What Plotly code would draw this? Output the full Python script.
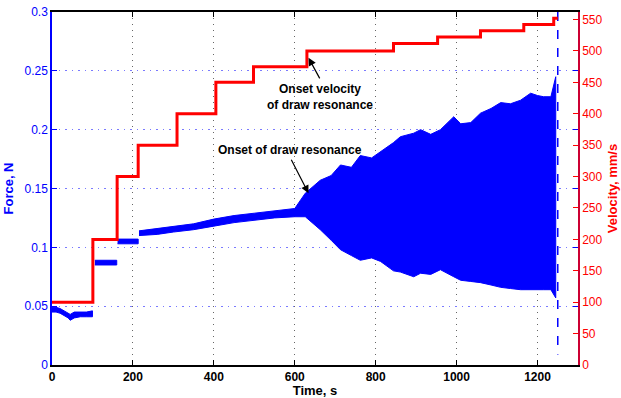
import plotly.graph_objects as go

# ---- data ----
# force envelope (segments separated by None): time, upper, lower
force_t = [0, 10, 20, 30, 40, 45, 55, 70, 85, 100, None,
           106, 130, 160, None,
           162, 190, 213, None,
           215, 260, 300, 350, 400, 450, 500, 550, 600, 626, 663, 690, 713, 740, 762,
           790, 812, 844, 861, 894, 911, 936, 960, 993, 1010, 1035, 1059, 1085, 1109,
           1133, 1158, 1183, 1200, 1215, 1233, 1245]
force_hi = [0.049, 0.049, 0.048, 0.046, 0.044, 0.043, 0.045, 0.045, 0.045, 0.046, None,
            0.089, 0.089, 0.089, None,
            0.107, 0.107, 0.107, None,
            0.114, 0.116, 0.118, 0.120, 0.124, 0.127, 0.129, 0.131, 0.133, 0.146, 0.157,
            0.161, 0.170, 0.168, 0.178, 0.176, 0.181, 0.189, 0.194, 0.197, 0.200, 0.196,
            0.200, 0.211, 0.205, 0.206, 0.214, 0.218, 0.223, 0.222, 0.225, 0.231, 0.229,
            0.228, 0.228, 0.245]
force_lo = [0.045, 0.045, 0.044, 0.042, 0.040, 0.038, 0.040, 0.041, 0.041, 0.041, None,
            0.085, 0.085, 0.085, None,
            0.103, 0.103, 0.103, None,
            0.110, 0.111, 0.113, 0.115, 0.118, 0.121, 0.123, 0.125, 0.126, 0.126, 0.115,
            0.106, 0.098, 0.093, 0.089, 0.091, 0.088, 0.080, 0.079, 0.075, 0.078, 0.077,
            0.081, 0.075, 0.072, 0.071, 0.070, 0.068, 0.066, 0.065, 0.064, 0.064, 0.064,
            0.064, 0.064, 0.057]

# final collapse of the force trace (dashed)
end_t = [1250, 1250]
end_force = [0.3, 0.009]

# draw velocity steps
vel_t = [0, 101, 161, 213, 309, 405, 498, 630, 844, 953, 1059, 1166, 1240, 1250]
vel_v = [100, 200, 300, 350, 400, 450, 475, 500, 512, 522, 532, 542, 552, 552]

x_ticks = [0, 200, 400, 600, 800, 1000, 1200]
force_ticks = [0, 0.05, 0.1, 0.15, 0.2, 0.25, 0.3]
force_tick_text = ["0", "0.05", "0.1", "0.15", "0.2", "0.25", "0.3"]
vel_ticks = [0, 50, 100, 150, 200, 250, 300, 350, 400, 450, 500, 550]

# ---- build closed envelope polygons per segment ----
poly_x, poly_y = [], []
seg_t, seg_hi, seg_lo = [], [], []
for t, hi, lo in zip(force_t + [None], force_hi + [None], force_lo + [None]):
    if t is None:
        if seg_t:
            poly_x += seg_t + seg_t[::-1] + [None]
            poly_y += seg_hi + seg_lo[::-1] + [None]
        seg_t, seg_hi, seg_lo = [], [], []
    else:
        seg_t.append(t); seg_hi.append(hi); seg_lo.append(lo)

BLUE = "#0000ff"
RED = "#ff0000"
FONT = "Liberation Sans, Arial, sans-serif"

fig = go.Figure()
fig.add_trace(go.Scatter(x=poly_x, y=poly_y, mode="lines", fill="toself",
                         fillcolor=BLUE, line=dict(color=BLUE, width=1),
                         hoverinfo="skip", showlegend=False, yaxis="y"))
fig.add_trace(go.Scatter(x=end_t, y=end_force, mode="lines",
                         line=dict(color=BLUE, width=1.5, dash="dash"),
                         showlegend=False, yaxis="y"))
fig.add_trace(go.Scatter(x=vel_t, y=vel_v, mode="lines", line_shape="hv",
                         line=dict(color=RED, width=3), showlegend=False, yaxis="y2"))

fig.update_layout(
    width=621, height=398,
    margin=dict(l=52, r=43, t=12, b=33),
    paper_bgcolor="white", plot_bgcolor="white",
    font=dict(family=FONT, size=12, color="black"),
    xaxis=dict(range=[0, 1300], tickvals=x_ticks, ticks="inside", ticklen=5,
               linecolor="black", linewidth=1.5, mirror="ticks", showline=True,
               showgrid=True, gridcolor="#666666", griddash="1px,5px", gridwidth=1,
               zeroline=False, tickcolor="black",
               tickfont=dict(family=FONT, size=12, color="black", weight="bold"),
               title=dict(text="<b>Time, s</b>", font=dict(size=13, color="black"),
                          standoff=2),
               automargin=False),
    yaxis=dict(range=[0, 0.3], tickvals=force_ticks, ticktext=force_tick_text,
               ticks="inside", ticklen=5, tickcolor=BLUE,
               linecolor=BLUE, linewidth=1.5, mirror="ticks", showline=True,
               showgrid=True, gridcolor="#7a7aff", griddash="1.5px,5px", gridwidth=1,
               zeroline=False, tickfont=dict(size=12, color=BLUE),
               title=dict(text="<b>Force, N</b>", font=dict(size=13, color=BLUE),
                          standoff=8),
               automargin=False),
    yaxis2=dict(range=[0, 562], tickvals=vel_ticks, overlaying="y", side="right",
                ticks="inside", ticklen=5, tickcolor=RED,
                linecolor="#cc0033", linewidth=1.5, showline=True,
                showgrid=False, zeroline=False,
                tickfont=dict(size=12, color=RED),
                title=dict(text="<b>Velocity, mm/s</b>", font=dict(size=13, color=RED),
                           standoff=6),
                automargin=False),
)

# arrows
fig.add_annotation(x=634, y=489, xref="x", yref="y2", ax=12, ay=22,
                   axref="pixel", ayref="pixel", text="", showarrow=True,
                   arrowhead=2, arrowsize=1.3, arrowwidth=1.2, arrowcolor="black")
fig.add_annotation(x=634, y=0.146, xref="x", yref="y", ax=-18, ay=-35,
                   text="", showarrow=True,
                   arrowhead=2, arrowsize=1.3, arrowwidth=1.2, arrowcolor="black")
# texts
fig.add_annotation(x=663, y=0.2278, xref="x", yref="y", showarrow=False,
                   text="<b>Onset velocity<br>of draw resonance</b>",
                   font=dict(size=12, color="black"), align="center")
fig.add_annotation(x=587, y=0.1827, xref="x", yref="y", showarrow=False,
                   text="<b>Onset of draw resonance</b>",
                   font=dict(size=12, color="black"), align="center")

fig.write_html("out.html")
